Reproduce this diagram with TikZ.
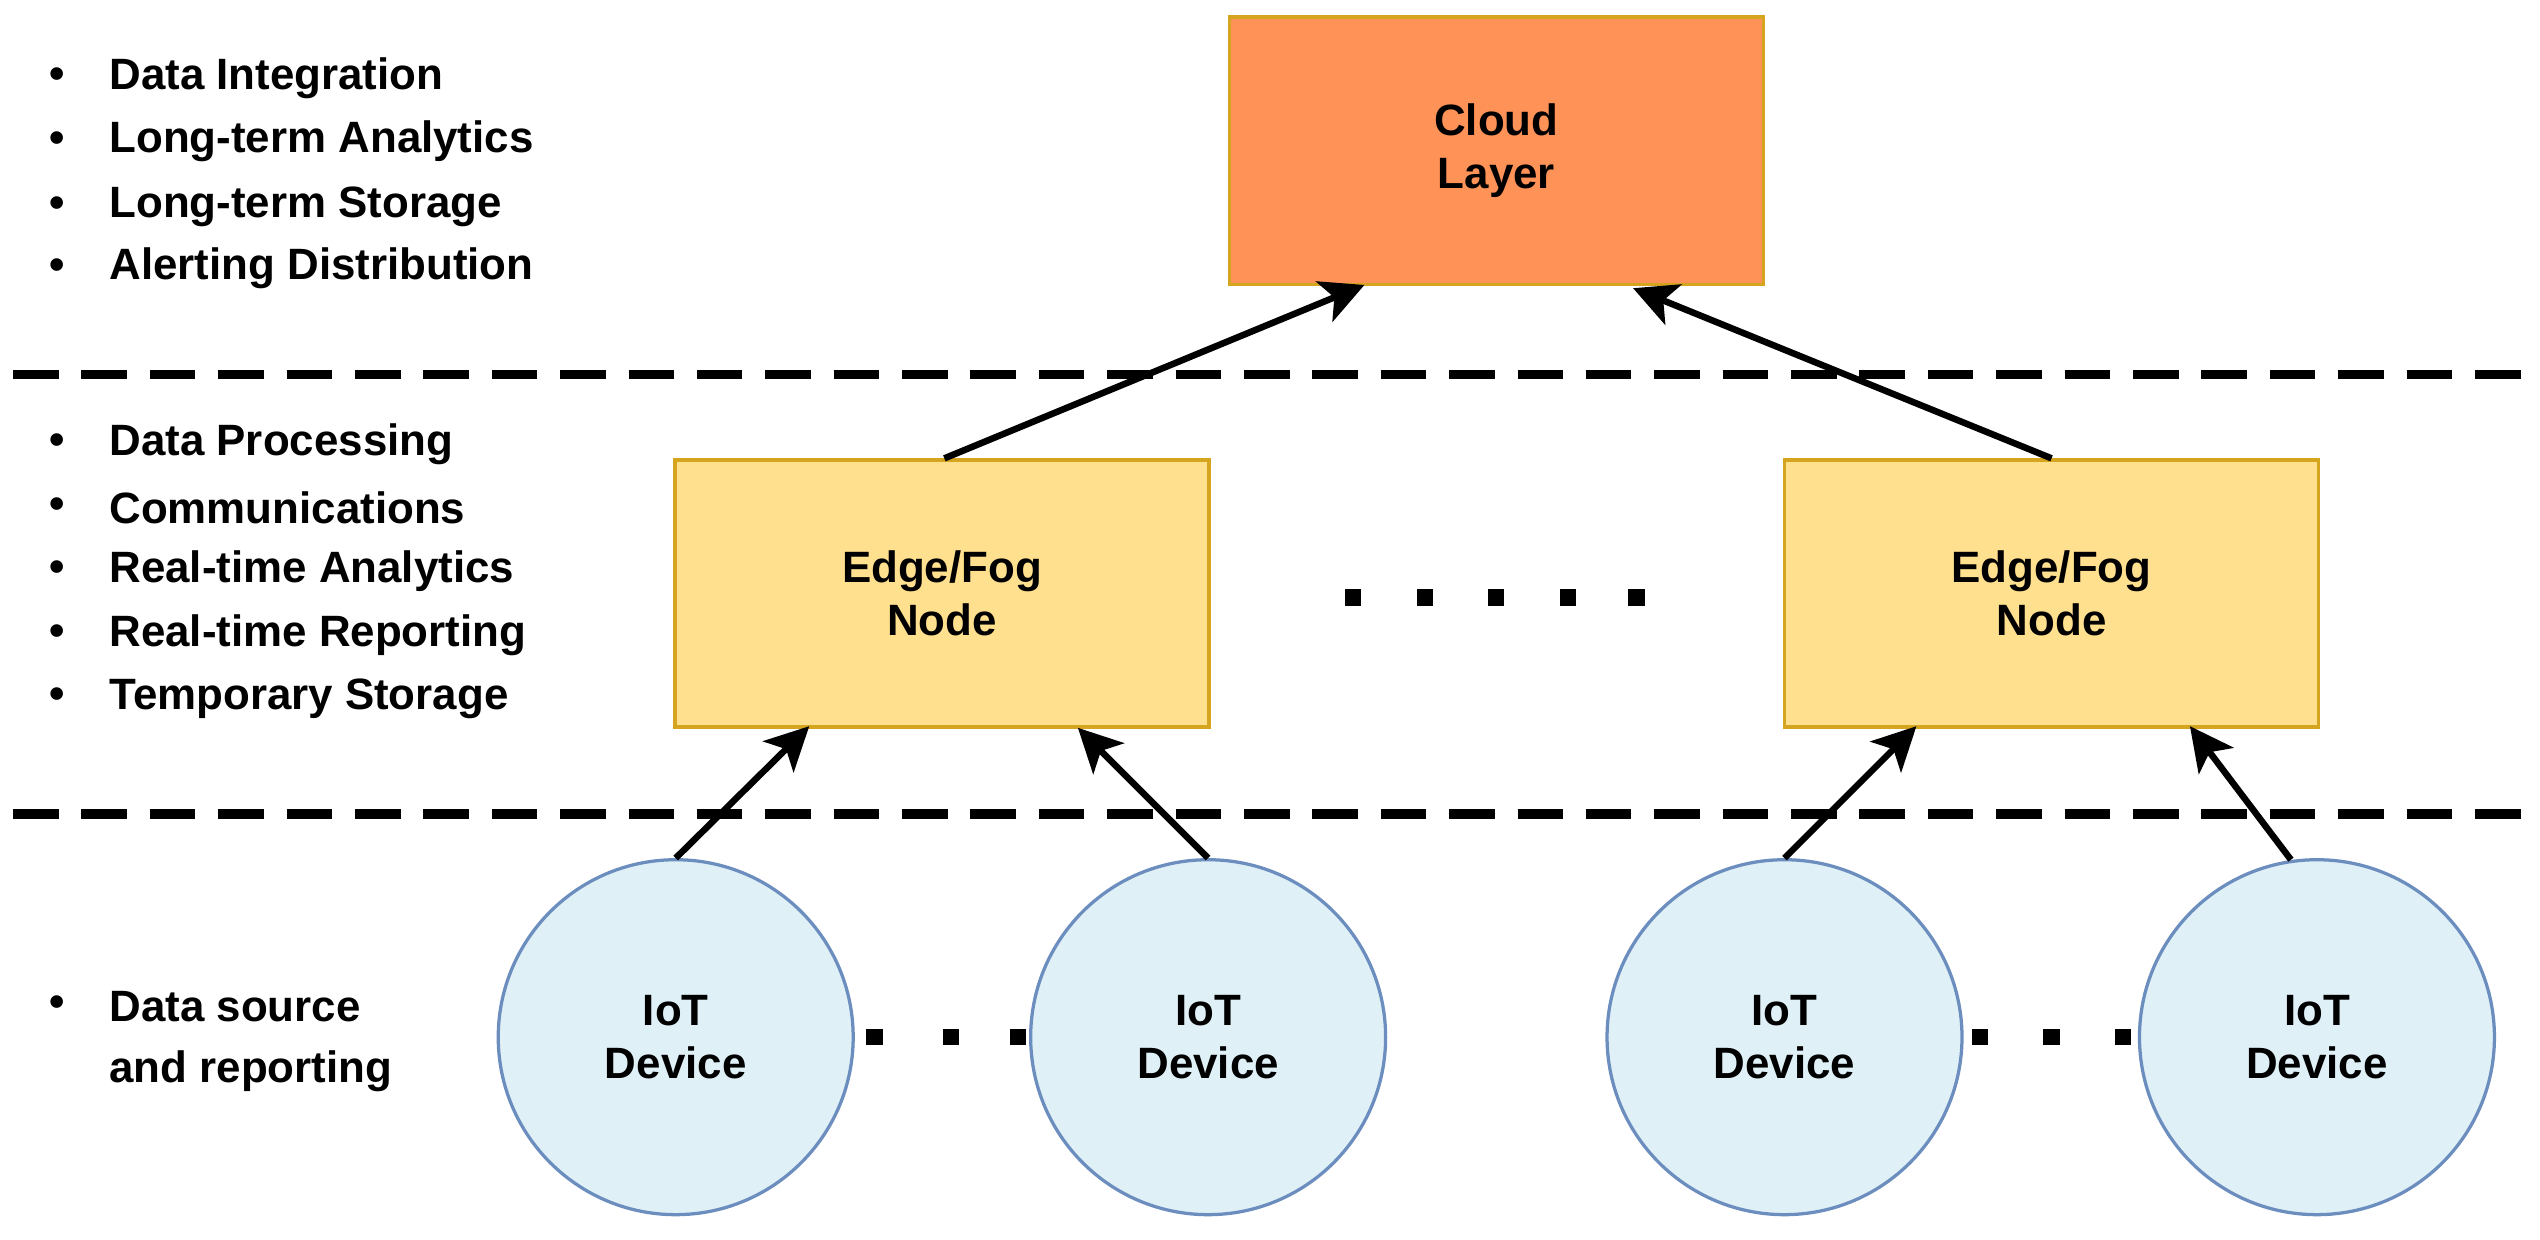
\documentclass[tikz,border=0pt]{standalone}
\usepackage{fontspec}
\setmainfont{Liberation Sans}
\usetikzlibrary{arrows.meta}
\definecolor{cloudfill}{HTML}{FF9257}
\definecolor{edgefill}{HTML}{FFE08F}
\definecolor{goldline}{HTML}{D6A520}
\definecolor{iotfill}{HTML}{DFF0F7}
\definecolor{iotline}{HTML}{6C8EBF}
\begin{document}
\begin{tikzpicture}[x=0.3mm,y=-0.3mm,
  every node/.style={font=\fontsize{23}{28}\selectfont\bfseries, align=center},
  box/.style={draw=goldline, line width=0.6mm, minimum width=98.4mm, minimum height=49.2mm, inner sep=0},
  iot/.style={circle, draw=iotline, line width=0.6mm, fill=iotfill, minimum size=65.4mm, inner sep=0},
  arr/.style={line width=1.2mm, -{Stealth[length=8mm,width=8mm,inset=2mm]}},
  layer/.style={line width=1.8mm, dash pattern=on 8.4mm off 4.2mm},
  dot/.style={fill=black, minimum size=3mm, inner sep=0},
  txt/.style={anchor=west, inner sep=0},
  bul/.style={inner sep=0}]
\useasboundingbox (0,0) rectangle (1560,761);
\node[box, fill=cloudfill] (cloud) at (919,92.5) {Cloud\\Layer};
\node[box, fill=edgefill] (e1) at (578.5,364.5) {Edge/Fog\\Node};
\node[box, fill=edgefill] (e2) at (1260,364.5) {Edge/Fog\\Node};
\node[iot] (d1) at (415,637) {IoT\\Device};
\node[iot] (d2) at (742,637) {IoT\\Device};
\node[iot] (d3) at (1096,637) {IoT\\Device};
\node[iot] (d4) at (1423,637) {IoT\\Device};
\coordinate (l1a) at (8,230); \coordinate (l1b) at (1552,230);
\coordinate (l2a) at (8,500); \coordinate (l2b) at (1552,500);
\draw[layer] (l1a) -- (l1b);
\draw[layer] (l2a) -- (l2b);
\draw[arr] (e1.north) ++(1.5,0) coordinate (s1) (s1) -- (838,175);
\draw[arr] (e2.north) -- (1003,177);
\draw[arr] (d1.north) -- (497,446);
\draw[arr] (d2.north) -- (662,447);
\draw[arr] (d3.north) -- (1177,446);
\draw[arr] (1407,528) -- (1345,446);
\foreach \x [count=\i] in {831,875,919,963,1005} \node[dot] (pa\i) at (\x,367) {};
\foreach \x [count=\i] in {537,584,625} \node[dot] (pb\i) at (\x,637) {};
\foreach \x [count=\i] in {1216,1260,1304} \node[dot] (pc\i) at (\x,637) {};
\foreach \y/\t [count=\i] in {48/Data Integration,87/Long-term Analytics,127/Long-term Storage,165/Alerting Distribution,
  273/Data Processing,312/Communications,351/Real-time Analytics,390/Real-time Reporting,429/Temporary Storage,
  618/Data source,658/and reporting}{
  \node[txt] (t\i) at (67,\y) {\t};
}
\foreach \y [count=\i] in {48,87,127,165,273,312,351,390,429,618}{
  \node[bul] (b\i) at (35,\y) {\textbullet};
}
\end{tikzpicture}
\end{document}
